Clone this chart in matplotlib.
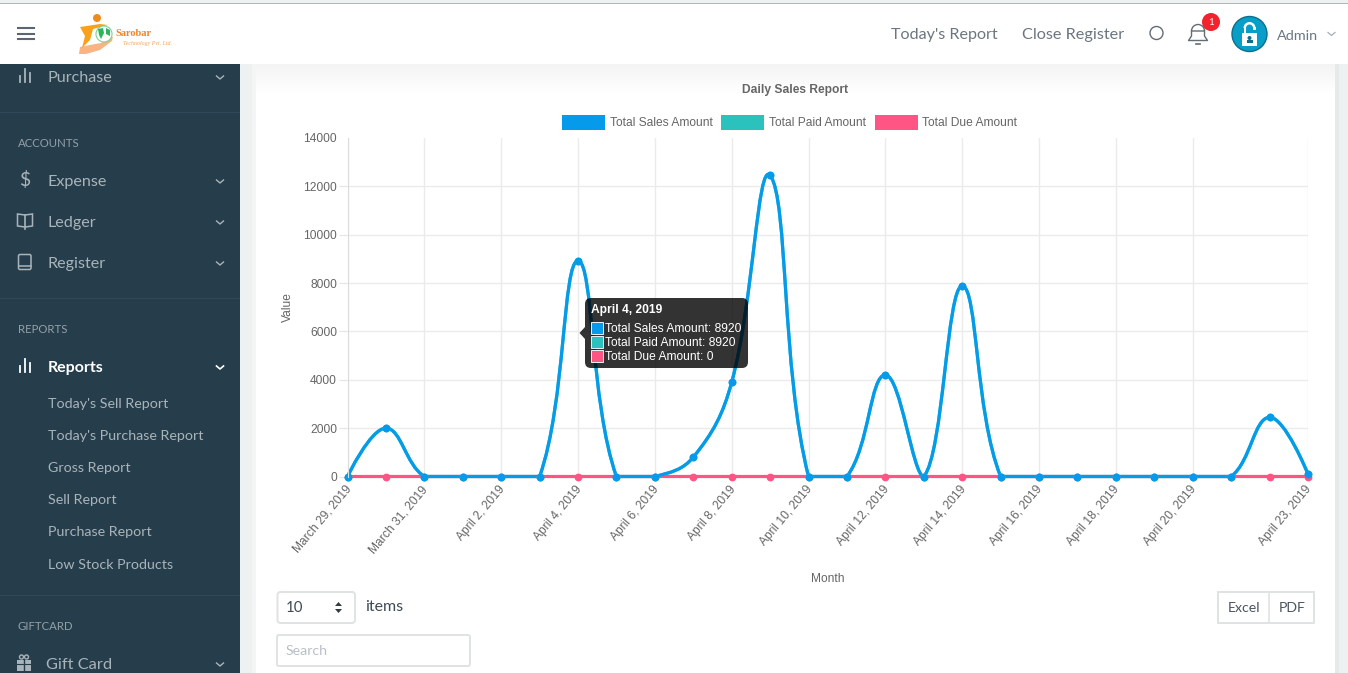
import numpy as np
import matplotlib
matplotlib.use('Agg')
from matplotlib import pyplot as plt
from matplotlib.patches import Rectangle, FancyBboxPatch, Circle, Polygon, PathPatch, Wedge, Ellipse
from matplotlib.path import Path
from matplotlib.transforms import ScaledTranslation

# chart data
dates = ['March 29, 2019', 'March 30, 2019', 'March 31, 2019', 'April 1, 2019', 'April 2, 2019',
         'April 3, 2019', 'April 4, 2019', 'April 5, 2019', 'April 6, 2019', 'April 7, 2019',
         'April 8, 2019', 'April 9, 2019', 'April 10, 2019', 'April 11, 2019', 'April 12, 2019',
         'April 13, 2019', 'April 14, 2019', 'April 15, 2019', 'April 16, 2019', 'April 17, 2019',
         'April 18, 2019', 'April 19, 2019', 'April 20, 2019', 'April 21, 2019', 'April 22, 2019',
         'April 23, 2019']
sales = [0, 2000, 0, 0, 0, 0, 8920, 0, 0, 800, 3900, 12450, 0, 0, 4200, 0, 7880, 0,
         0, 0, 0, 0, 0, 0, 2450, 100]
paid = [0, 2000, 0, 0, 0, 0, 8920, 0, 0, 800, 3900, 12450, 0, 0, 4200, 0, 7880, 0,
        0, 0, 0, 0, 0, 0, 2450, 100]
due = [0] * 26
yticks = [0, 2000, 4000, 6000, 8000, 10000, 12000, 14000]
legend_names = ['Total Sales Amount', 'Total Paid Amount', 'Total Due Amount']
legend_colors = ['#059bea', '#2bc1bd', '#ff5584']
tooltip_lines = ['Total Sales Amount: 8920', 'Total Paid Amount: 8920', 'Total Due Amount: 0']

W, H = 1348, 673
CHART = 'Liberation Sans'
UI = 'Lato'
SIDE = '#263e4b'
MUTED = '#a9b4ba'

fig = plt.figure(figsize=(W / 100, H / 100), dpi=100)


def pixel_axes(z):
    a = fig.add_axes([0, 0, 1, 1], zorder=z)
    a.set_xlim(0, W)
    a.set_ylim(H, 0)
    a.axis('off')
    a.patch.set_alpha(0)
    return a


bg = pixel_axes(0)
top = pixel_axes(2)

# page background, card, header, sidebar
bg.add_patch(Rectangle((0, 0), W, H, color='#eef1f1', lw=0))
bg.add_patch(Rectangle((1335, 64), 4, H, color='#e6e9e9', lw=0))
bg.add_patch(Rectangle((252, 64), 4, H, color='#f4f5f5', lw=0))
bg.add_patch(Rectangle((256, 64), 1079, H, color='white', lw=0))
# header shadow fading out over the card
for i in range(30):
    g = 0.955 + 0.045 * i / 30
    bg.add_patch(Rectangle((256, 64 + i), 1079, 1.2, color=(g, g, g), lw=0))
bg.add_patch(Rectangle((0, 64), 240, H, color=SIDE, lw=0))
bg.add_patch(Rectangle((0, 3), W, 61, color='white', lw=0))
bg.add_patch(Rectangle((0, 3), W, 1, color='#b5b5b5', lw=0))
for y in (28, 33.5, 39):
    bg.plot([18, 34], [y, y], color='#5b6670', lw=1.5)

# logo
bg.add_patch(Polygon([[79, 54], [80, 47], [90, 45], [101, 43], [113, 36.5], [112, 41], [100, 50], [86, 54]], color='#f8b483', lw=0))
bg.add_patch(Polygon([[80, 27], [100, 24], [108, 25], [93, 29], [90, 40], [82, 48], [85, 36]], color='#f9a11b', lw=0))
bg.add_patch(Circle((97, 18), 4, color='#f08a1d', lw=0))
bg.add_patch(Circle((104, 34), 8, fc='white', ec='#7fcf98', lw=0.8))
bg.add_patch(Polygon([[98, 29], [103, 28], [104, 33], [101, 39], [99, 35]], color='#2fb457', lw=0))
bg.add_patch(Polygon([[106, 28], [110, 30], [110, 36], [106, 34]], color='#2fb457', lw=0))
bg.text(115, 34, 'Sarobar', color='#f58220', fontsize=7.4, family='Liberation Serif', weight='bold', va='center')
bg.text(123, 43.5, 'Technology Pvt. Ltd.', color='#f3a25a', fontsize=4.2, family='Liberation Serif', style='italic', va='center')

# header right
bg.text(891, 35, "Today's Report", color='#6b7680', fontsize=11.6, family=UI, va='center')
bg.text(1022.5, 35, 'Close Register', color='#6b7680', fontsize=11.7, family=UI, va='center')
bg.add_patch(Circle((1156.5, 33), 6.5, fc='none', ec='#626d76', lw=1))
bg.add_patch(Wedge((1198, 31), 6.5, 180, 360, fc='none', ec='#626d76', lw=1))
bg.plot([1191.5, 1191.5, 1188.5, 1207.5, 1204.5, 1204.5], [31, 36, 40.5, 40.5, 36, 31], color='#626d76', lw=1)
bg.plot([1196, 1200], [43.5, 43.5], color='#626d76', lw=1.2)
bg.add_patch(Circle((1211, 22), 9, color='#f4222d', lw=0))
bg.text(1211, 22.5, '1', color='white', fontsize=7, family=UI, ha='center', va='center')
bg.add_patch(Circle((1249.5, 34), 17.5, fc='#079ec8', ec='#0b6f8d', lw=1))
bg.add_patch(Rectangle((1242, 33), 15, 13, color='white', lw=0))
bg.add_patch(Wedge((1249.5, 28), 6, 180, 360, width=2.5, color='white', lw=0))
bg.add_patch(Rectangle((1243.5, 27), 2.5, 6, color='white', lw=0))
bg.add_patch(Rectangle((1253, 27), 2.5, 2.5, color='white', lw=0))
bg.add_patch(Circle((1249.5, 38), 2, color='#0b6f8d', lw=0))
bg.add_patch(Rectangle((1246.5, 40), 6, 3, color='#0b6f8d', lw=0))
bg.text(1276.5, 35.5, 'Admin', color='#6b7680', fontsize=10.4, family=UI, va='center')
bg.plot([1328, 1331.5, 1335], [32.5, 35.5, 32.5], color='#a8aeb3', lw=0.9)

# sidebar
menu = [('Purchase', 76.5), ('Expense', 180.5), ('Ledger', 221.5), ('Register', 262.5)]
for name, y in menu:
    bg.text(47.5, y + 1.2, name, color=MUTED, fontsize=11.6, family=UI, va='center')
    bg.plot([216.5, 220, 223.5], [y - 0.5, y + 2.5, y - 0.5], color=MUTED, lw=1)
for y in (112, 298, 595):
    bg.add_patch(Rectangle((0, y), 240, 1, color='#30495a', lw=0))
for name, y in [('ACCOUNTS', 143), ('REPORTS', 329), ('GIFTCARD', 626)]:
    bg.text(18, y + 0.8, name, color='#93a0a8', fontsize=8.2, family=UI, va='center')
for y0, c in ((76.5, MUTED), (366.5, 'white')):
    for x, h in ((20, 3), (25, 6.5), (30, 4.5)):
        bg.plot([x, x], [y0 + 5.5, y0 + 5.5 - 2 * h], color=c, lw=1.3)
bg.text(25, 180.5, '$', color=MUTED, fontsize=14, family=UI, ha='center', va='center')
bg.add_patch(Polygon([[17.5, 214], [25, 215], [32.5, 214], [32.5, 226], [25, 227], [17.5, 226]], fc='none', ec=MUTED, lw=1.1))
bg.plot([25, 25], [215, 229], color=MUTED, lw=1.2)
bg.add_patch(FancyBboxPatch((18.5, 254.5), 12.5, 15, boxstyle='round,pad=0,rounding_size=1.5', fc='none', ec=MUTED, lw=1.1))
bg.plot([18.5, 31], [266, 266], color=MUTED, lw=1.1)
bg.text(48, 367.7, 'Reports', color='white', fontsize=11.5, family=UI, weight='bold', va='center')
bg.plot([216.5, 220, 223.5], [366, 369, 366], color='white', lw=1.2)
subs = [("Today's Sell Report", 403), ("Today's Purchase Report", 435), ('Gross Report', 467),
        ('Sell Report', 499), ('Purchase Report', 531), ('Low Stock Products', 564)]
for name, y in subs:
    bg.text(48, y + 1, name, color=MUTED, fontsize=10.3, family=UI, va='center')
# gift icon
bg.add_patch(Rectangle((17, 660), 14, 11, color=MUTED, lw=0))
bg.add_patch(Circle((21.5, 657), 2, fc='none', ec=MUTED, lw=1))
bg.add_patch(Circle((26.5, 657), 2, fc='none', ec=MUTED, lw=1))
bg.plot([24, 24], [659, 672], color=SIDE, lw=1)
bg.plot([17, 31], [664, 664], color=SIDE, lw=0.8)
bg.text(46, 665, 'Gift Card', color=MUTED, fontsize=11.8, family=UI, va='center')
bg.plot([216.5, 220, 223.5], [663, 666, 663], color=MUTED, lw=1)

# chart titles
bg.text(795.5, 89.5, 'Daily Sales Report', color='#666666', fontsize=8.64, family=CHART, weight='bold', ha='center', va='center')
bg.text(287.5, 307.5, 'Value', color='#666666', fontsize=8.64, family=CHART, rotation=90, ha='center', va='center')
bg.text(828, 579.5, 'Month', color='#666666', fontsize=8.64, family=CHART, ha='center', va='center')
for name, col, bx, tx in zip(legend_names, legend_colors, (562, 721, 875), (609.5, 769, 922)):
    bg.add_patch(Rectangle((bx, 115), 43, 15, color=col, lw=0))
    bg.text(tx, 123, name, color='#666666', fontsize=8.64, family=CHART, va='center')

# controls below the chart
bg.add_patch(FancyBboxPatch((277.5, 592), 77.5, 31, boxstyle='round,pad=0,rounding_size=3', fc='white', ec='#dfe3e3', lw=1.4))
bg.text(286, 608.5, '10', color='#3f4a55', fontsize=10.8, family=UI, va='center')
bg.add_patch(Polygon([[335, 606], [342, 606], [338.5, 602]], color='#343a40', lw=0))
bg.add_patch(Polygon([[335, 609], [342, 609], [338.5, 613]], color='#343a40', lw=0))
bg.text(365.5, 607, 'items', color='#3f4a55', fontsize=11.5, family=UI, va='center')
bg.add_patch(FancyBboxPatch((277, 635), 193, 31, boxstyle='round,pad=0,rounding_size=2', fc='white', ec='#dfe3e3', lw=1.4))
bg.text(286, 651, 'Search', color='#b9c0c5', fontsize=10.2, family=UI, va='center')
bg.add_patch(Rectangle((1218, 592), 96, 31, fc='white', ec='#dfe3e3', lw=1.4))
bg.plot([1268.5, 1268.5], [592, 623], color='#dfe3e3', lw=1.2)
bg.text(1244, 608.5, 'Excel', color='#4a5560', fontsize=10.2, family=UI, ha='center', va='center')
bg.text(1292, 608.5, 'PDF', color='#4a5560', fontsize=10.2, family=UI, ha='center', va='center')

# the chart itself
left, right, ytop, ybot = 347.5, 1308, 138, 476.5
ax = fig.add_axes([left / W, 1 - ybot / H, (right - left) / W, (ybot - ytop) / H], zorder=1)
ax.patch.set_alpha(0)
idx = np.arange(len(dates))
ax.set_xlim(0, len(dates) - 1)
ax.set_ylim(0, 14000)
tick_idx = list(range(0, 23, 2)) + [25]
ax.set_xticks(tick_idx)
ax.set_xticklabels([dates[i] for i in tick_idx], rotation=50, ha='right', rotation_mode='anchor',
                   color='#666666', fontsize=8.64, family=CHART)
ax.set_yticks(yticks)
ax.set_yticklabels(yticks, color='#666666', fontsize=8.64, family=CHART)
ax.grid(color='#ebebeb', lw=1)
ax.set_axisbelow(True)
ax.tick_params(axis='x', length=0, pad=5)
ax.tick_params(axis='y', length=6.5, color='#e6e6e6', pad=1)
ax.get_ygridlines()[-1].set_visible(False)
ax.yaxis.get_major_ticks()[-1].tick1line.set_visible(False)
nudge = ScaledTranslation(-3 / 100, 0, fig.dpi_scale_trans)
for lab in ax.get_xticklabels():
    lab.set_transform(lab.get_transform() + nudge)
for name, s in ax.spines.items():
    s.set_visible(name == 'left')
    s.set_color('#dcdcdc')


def spline(values, tension=0.4):
    # same bezier the browser chart uses, worked out in pixels, capped to the plot area
    p = ax.transData.transform(np.column_stack([idx, values]))
    low = ax.transData.transform((0, 0))
    high = ax.transData.transform((len(values) - 1, 14000))
    verts = [p[0]]
    codes = [Path.MOVETO]
    ctrl_in = p.copy()
    ctrl_out = p.copy()
    for i in range(1, len(p) - 1):
        d1 = np.hypot(*(p[i] - p[i - 1]))
        d2 = np.hypot(*(p[i + 1] - p[i]))
        s1 = d1 / (d1 + d2)
        s2 = d2 / (d1 + d2)
        ctrl_in[i] = p[i] - tension * s1 * (p[i + 1] - p[i - 1])
        ctrl_out[i] = p[i] + tension * s2 * (p[i + 1] - p[i - 1])
    ctrl_in = np.clip(ctrl_in, low, high)
    ctrl_out = np.clip(ctrl_out, low, high)
    for i in range(1, len(p)):
        verts += [ctrl_out[i - 1], ctrl_in[i], p[i]]
        codes += [Path.CURVE4] * 3
    return Path(ax.transData.inverted().transform(np.array(verts)), codes)


# due goes first so sales covers it along the baseline
for values, col in ((due, legend_colors[2]), (paid, legend_colors[1]), (sales, legend_colors[0])):
    ax.add_patch(PathPatch(spline(values), fc='none', ec=col, lw=2.3, clip_on=False, capstyle='round'))
    ax.plot(idx, values, 'o', color=col, ms=5.6, mew=0, clip_on=False)

# tooltip
top.add_patch(FancyBboxPatch((585, 298), 163, 70, boxstyle='round,pad=0,rounding_size=6', fc='#000000', alpha=0.8, ec='none'))
top.add_patch(Polygon([[585, 327], [579.5, 333], [585, 339]], fc='#000000', alpha=0.8, ec='none'))
top.text(591, 310, dates[6], color='white', fontsize=8.64, family=CHART, weight='bold', va='center')
for i, (line, col) in enumerate(zip(tooltip_lines, legend_colors)):
    y = 328 + i * 14
    top.add_patch(Rectangle((591, y - 6), 12, 12, fc=col, ec='#e8f4f8', lw=0.7))
    top.text(605, y + 0.5, line, color='white', fontsize=8.64, family=CHART, va='center')

fig.savefig('out.png', dpi=100)
